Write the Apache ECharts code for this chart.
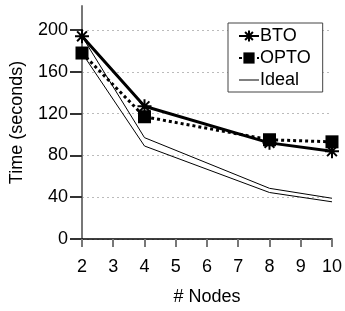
<!DOCTYPE html>
<html>
<head>
<meta charset="utf-8">
<script src="https://cdn.jsdelivr.net/npm/echarts@6/dist/echarts.min.js"></script>
<style>
  html, body { margin: 0; padding: 0; background: #fff; }
  #chart { width: 345px; height: 311px; }
</style>
</head>
<body>
<div id="chart"></div>
<script>
const nodes = [2, 4, 8, 10]
const bto = [194, 127, 92, 84]
const opto = [178, 117, 95, 93]
const idealBto = [194, 97, 48.5, 39]
const idealOpto = [178, 89, 44.5, 35.6]
const yTicks = [0, 40, 80, 120, 160, 200]

const asterisk = 'path://M0,5L10,5M5,0L5,10M1.5,1.5L8.5,8.5M8.5,1.5L1.5,8.5'
const font = 'Liberation Sans, Arial, sans-serif'

function pairs(ys) {
  return nodes.map((x, i) => [x, ys[i]])
}

const chart = echarts.init(document.getElementById('chart'))

chart.setOption({
  animation: false,
  backgroundColor: '#fff',
  textStyle: { fontFamily: font, color: '#000' },
  grid: { left: 79, right: 10, top: 6, bottom: 71 },
  legend: {
    left: 228,
    top: 23,
    orient: 'vertical',
    data: [
      'BTO',
      'OPTO',
      { name: 'Ideal', icon: 'path://M0,0L20,0L20,1L0,1Z' },
    ],
    backgroundColor: '#fff',
    borderColor: '#444',
    borderWidth: 1,
    padding: [4, 12, 3, 10],
    itemGap: 4,
    itemWidth: 20,
    itemHeight: 14,
    textStyle: { fontFamily: font, fontSize: 18, color: '#000', padding: [0, 0, 0, -4] },
  },
  xAxis: {
    type: 'value',
    min: 2,
    max: 10,
    interval: 1,
    name: '# Nodes',
    nameLocation: 'middle',
    nameGap: 49,
    nameTextStyle: { fontFamily: font, fontSize: 18, color: '#000' },
    axisLine: { lineStyle: { color: '#000', width: 1.5 } },
    axisTick: { length: 8, lineStyle: { color: '#777', width: 2 } },
    axisLabel: { fontFamily: font, fontSize: 18, color: '#000', margin: 19 },
    splitLine: { show: false },
  },
  yAxis: {
    type: 'value',
    min: 0,
    max: 223,
    name: 'Time (seconds)',
    nameLocation: 'middle',
    nameGap: 56,
    nameTextStyle: { fontFamily: font, fontSize: 18, color: '#000' },
    axisLine: { show: true, lineStyle: { color: '#777', width: 2 } },
    axisTick: { show: true, inside: false, length: 12, customValues: yTicks, lineStyle: { color: '#333', width: 2 } },
    axisLabel: { fontFamily: font, fontSize: 18, color: '#000', margin: 14, customValues: yTicks },
    splitLine: {
      show: true,
      lineStyle: { color: '#bbb', type: [2, 3], width: 1 },
    },
  },
  series: [
    {
      name: 'Ideal',
      type: 'line',
      data: pairs(idealBto),
      showSymbol: false,
      symbol: 'none',
      lineStyle: { color: '#000', width: 1 },
      itemStyle: { color: '#000' },
      z: 1,
    },
    {
      name: 'Ideal2',
      type: 'line',
      data: pairs(idealOpto),
      showSymbol: false,
      symbol: 'none',
      lineStyle: { color: '#000', width: 1 },
      itemStyle: { color: '#000' },
      z: 1,
    },
    {
      name: 'OPTO',
      type: 'line',
      data: pairs(opto),
      symbol: 'rect',
      symbolSize: 13,
      lineStyle: { color: '#000', width: 3, type: [3, 3] },
      itemStyle: { color: '#000' },
      z: 2,
    },
    {
      name: 'BTO',
      type: 'line',
      data: pairs(bto),
      symbol: asterisk,
      symbolSize: 14,
      lineStyle: { color: '#000', width: 3 },
      itemStyle: { color: '#000', borderColor: '#000', borderWidth: 2 },
      z: 3,
    },
  ],
})
</script>
</body>
</html>
